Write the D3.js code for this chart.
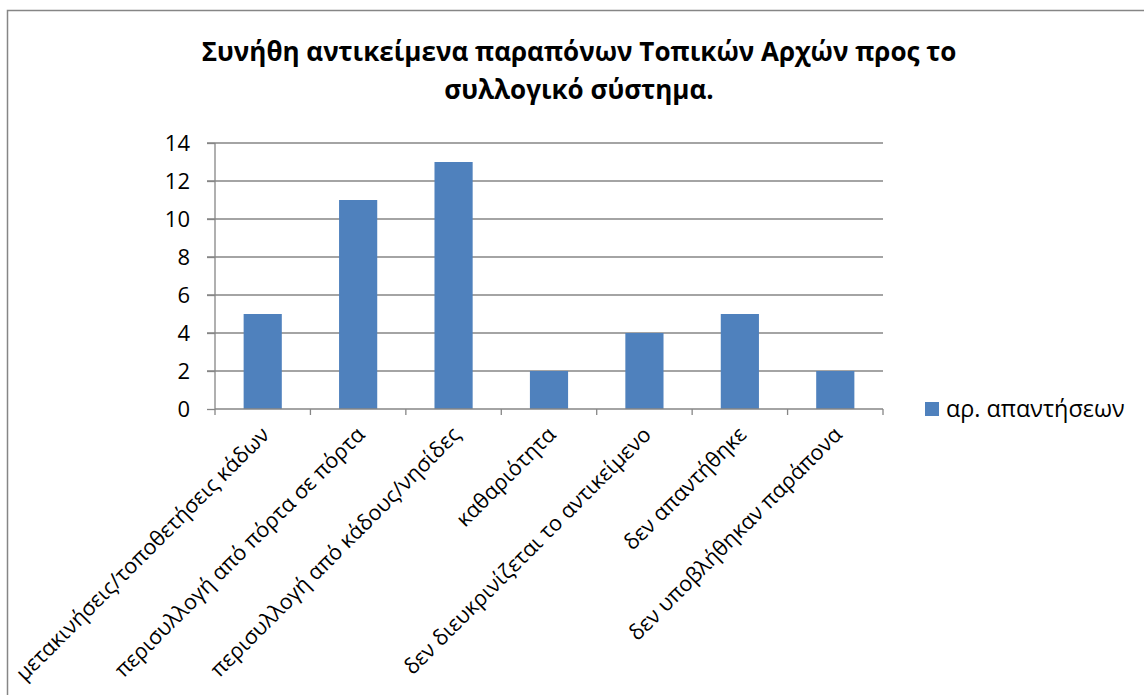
<!DOCTYPE html>
<html>
<head>
<meta charset="utf-8">
<script src="https://cdn.jsdelivr.net/npm/d3@7"></script>
<style>
  html, body { margin: 0; padding: 0; background: #fff; }
  svg text { font-family: "Open Sans", "Noto Sans", sans-serif; fill: #000; }
</style>
</head>
<body>
<svg id="chart" width="1144" height="695"></svg>
<script>
const titleLines = ["Συνήθη αντικείμενα παραπόνων Τοπικών Αρχών προς το", "συλλογικό σύστημα."];
const categories = [
  "μετακινήσεις/τοποθετήσεις κάδων",
  "περισυλλογή από πόρτα σε πόρτα",
  "περισυλλογή από κάδους/νησίδες",
  "καθαριότητα",
  "δεν διευκρινίζεται το αντικείμενο",
  "δεν απαντήθηκε",
  "δεν υποβλήθηκαν παράπονα"
];
const values = [5, 11, 13, 2, 4, 5, 2];
const seriesName = "αρ. απαντήσεων";
const yTicks = [0, 2, 4, 6, 8, 10, 12, 14];

const svg = d3.select("#chart");
const gray = "#868686";
const barColor = "#4F81BD";

// outer frame (top & left visible)
svg.append("path")
  .attr("d", "M7.5,695 L7.5,10.5 L1144,10.5")
  .attr("fill", "none").attr("stroke", gray).attr("stroke-width", 1.5);

// title
svg.append("text")
  .attr("text-anchor", "middle")
  .attr("font-weight", "bold")
  .attr("font-size", 26)
  .selectAll("tspan").data(titleLines).join("tspan")
  .attr("x", 579)
  .attr("y", (d, i) => 61 + i * 38)
  .text(d => d);

const x = d3.scaleBand().domain(categories).range([215, 883]).paddingInner(0.6).paddingOuter(0.3);
const xb = d3.scaleBand().domain(categories).range([215, 883]);
const y = d3.scaleLinear().domain([0, 14]).range([409, 143]);

// gridlines
svg.append("g").selectAll("line").data(yTicks.filter(t => t > 0)).join("line")
  .attr("x1", 207).attr("x2", 883)
  .attr("y1", d => y(d)).attr("y2", d => y(d))
  .attr("stroke", gray).attr("stroke-width", 1.3);

// y axis
const yAxis = svg.append("g").attr("transform", "translate(215,0)")
  .call(d3.axisLeft(y).tickValues(yTicks).tickSize(8).tickPadding(17));
yAxis.select(".domain").attr("stroke", gray).attr("stroke-width", 1.3).attr("d", "M0,143V409");
yAxis.selectAll(".tick line").attr("stroke", gray).attr("stroke-width", 1.3);
yAxis.selectAll(".tick text").attr("font-size", 22).attr("font-family", "Open Sans").attr("fill", "#000").attr("dy", "0.35em");

// bars
svg.append("g").selectAll("rect").data(values).join("rect")
  .attr("x", (d, i) => x(categories[i]))
  .attr("width", x.bandwidth())
  .attr("y", d => y(d))
  .attr("height", d => y(0) - y(d))
  .attr("fill", barColor);

// x axis
const xAxisG = svg.append("g").attr("transform", "translate(0,409)");
xAxisG.append("line").attr("x1", 215).attr("x2", 883).attr("y1", 0).attr("y2", 0)
  .attr("stroke", gray).attr("stroke-width", 1.3);
const bounds = categories.map(c => xb(c)).concat([883]);
xAxisG.selectAll("line.tk").data(bounds).join("line").attr("class", "tk")
  .attr("x1", d => d).attr("x2", d => d).attr("y1", 0).attr("y2", 6)
  .attr("stroke", gray).attr("stroke-width", 1.3);

// category labels
svg.append("g").selectAll("text").data(categories).join("text")
  .attr("transform", d => `translate(${xb(d) + xb.bandwidth() / 2 + 8},436) rotate(-45)`)
  .attr("text-anchor", "end")
  .attr("font-size", 21.5)
  .text(d => d);

// legend
const lg = svg.append("g");
lg.append("rect").attr("x", 925).attr("y", 402).attr("width", 14).attr("height", 14).attr("fill", barColor);
lg.append("text").attr("x", 946).attr("y", 417).attr("font-size", 23.4).text(seriesName);
</script>
</body>
</html>
